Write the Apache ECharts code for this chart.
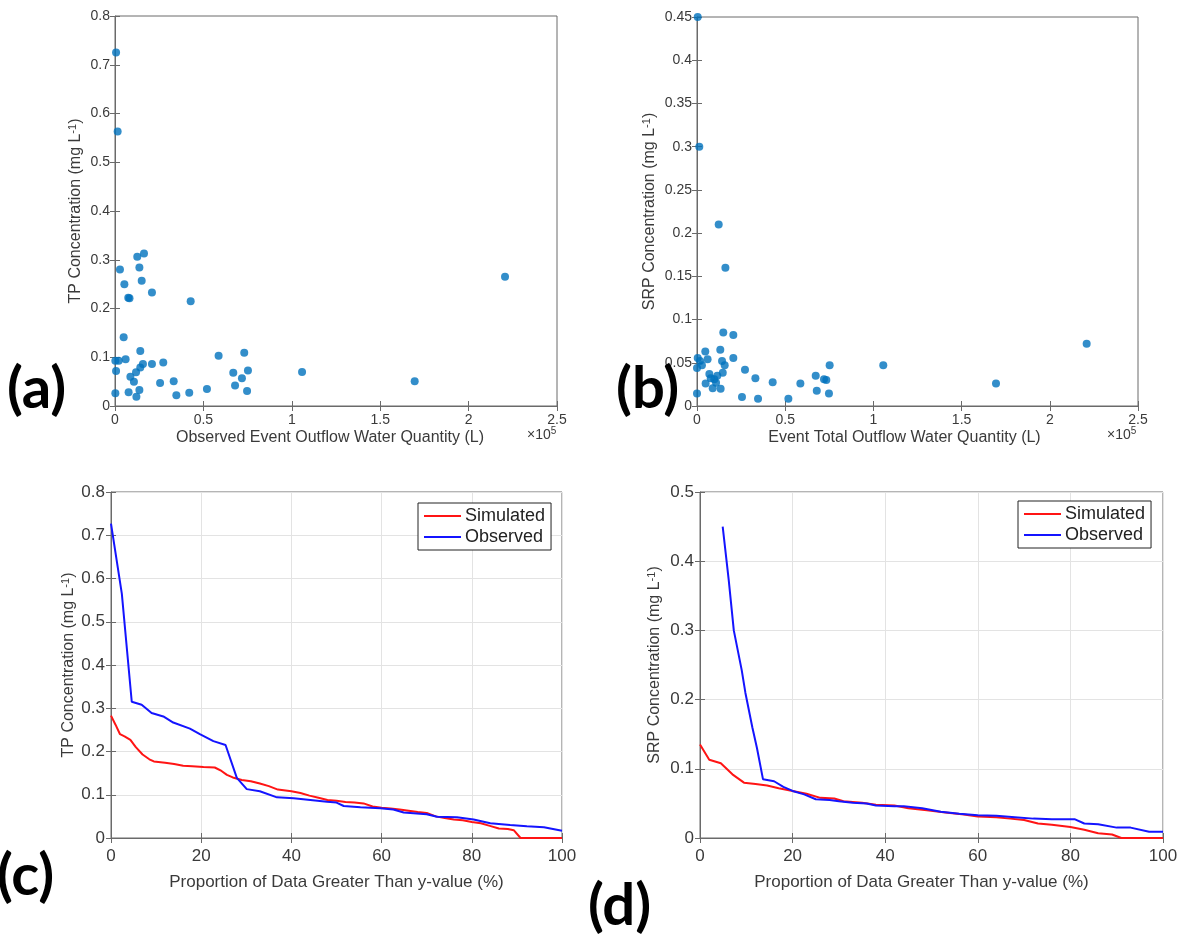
<!DOCTYPE html>
<html>
<head>
<meta charset="utf-8">
<script src="https://cdn.jsdelivr.net/npm/echarts@6/dist/echarts.min.js"></script>
<style>
  html, body { margin: 0; padding: 0; background: #fff; }
  #chart { width: 1182px; height: 938px; }
</style>
</head>
<body>
<div id="chart"></div>
<script>
// (a) TP vs observed event outflow (flow in units of 1e5 L, concentration in mg/L)
const tpFlow = [0.028, 0.126, 0.164, 0.138, 0.053, 0.151, 0.075, 0.082, 0.209, 0.428, 0.049, 0.002, 0.021, 0.060, 0.143,
  0.586, 0.731, 0.006, 0.087, 0.107, 0.119, 0.143, 0.158, 0.209, 0.273, 0.255, 0.332, 0.347, 0.002, 0.077,
  0.121, 0.138, 0.420, 0.520, 0.669, 0.679, 0.718, 0.752, 0.747, 1.058, 1.695, 2.206, 0.006, 0.015];
const tpConc = [0.280, 0.306, 0.313, 0.284, 0.250, 0.257, 0.222, 0.221, 0.233, 0.215, 0.141, 0.093, 0.093, 0.096, 0.113,
  0.103, 0.109, 0.072, 0.060, 0.050, 0.069, 0.079, 0.086, 0.086, 0.089, 0.047, 0.051, 0.022, 0.026, 0.028,
  0.019, 0.033, 0.027, 0.035, 0.068, 0.042, 0.057, 0.073, 0.031, 0.070, 0.051, 0.265, 0.725, 0.563];

// (b) SRP vs event total outflow
const srpFlow = [0.004, 0.013, 0.123, 0.161, 0.149, 0.206, 0.132, 0.047, 0.004, 0.017, 0.028, 0.000, 0.060, 0.142, 0.157,
  0.206, 0.272, 0.070, 0.146, 0.115, 0.331, 0.078, 0.098, 0.049, 0.108, 0.089, 0.134, 0.000, 0.255, 0.346,
  0.429, 0.518, 0.586, 0.673, 0.720, 0.733, 0.752, 0.679, 0.748, 1.056, 1.695, 2.209];
const srpConc = [0.450, 0.300, 0.210, 0.160, 0.085, 0.082, 0.065, 0.063, 0.0555, 0.052, 0.047, 0.044, 0.054, 0.052, 0.047,
  0.0555, 0.042, 0.037, 0.0385, 0.035, 0.032, 0.032, 0.031, 0.026, 0.027, 0.0205, 0.020, 0.0145, 0.0105, 0.0085,
  0.0275, 0.0085, 0.026, 0.035, 0.031, 0.030, 0.047, 0.0175, 0.0145, 0.047, 0.026, 0.072];

// (c) TP exceedance curves: [percent of data greater than y, concentration]
const tpSimulated = [[0, 0.283], [1, 0.262], [2, 0.240], [3, 0.235], [4.3, 0.227], [5.5, 0.210], [7, 0.193], [8.5, 0.182],
  [9.5, 0.177], [12, 0.174], [14, 0.171], [16, 0.167], [18, 0.166], [20.5, 0.164], [23, 0.163], [24.5, 0.155],
  [25.7, 0.146], [27, 0.140], [29, 0.134], [31, 0.131], [33, 0.126], [35, 0.120], [37, 0.112], [40, 0.108],
  [42, 0.104], [44, 0.098], [46, 0.093], [48, 0.088], [50, 0.086], [52, 0.083], [54, 0.082], [56, 0.080],
  [58, 0.073], [60, 0.070], [62, 0.068], [64, 0.066], [66, 0.063], [68, 0.060], [70, 0.058], [72, 0.050],
  [74, 0.046], [76, 0.043], [78, 0.041], [80, 0.037], [82, 0.034], [84, 0.028], [86, 0.022], [88, 0.021],
  [89.3, 0.018], [90.8, 0], [100, 0]];
const tpObserved = [[0, 0.727], [2.4, 0.565], [4.6, 0.315], [6.8, 0.308], [9, 0.289], [11.6, 0.281], [13.8, 0.267],
  [17.5, 0.253], [19.7, 0.240], [22.7, 0.224], [25.4, 0.215], [27.9, 0.139], [30.1, 0.113], [33, 0.108],
  [36.8, 0.094], [40.5, 0.092], [44.2, 0.088], [47.9, 0.084], [50, 0.082], [51.6, 0.074], [55.3, 0.071],
  [59.7, 0.069], [62.6, 0.066], [64.9, 0.059], [70, 0.055], [72.3, 0.049], [76.7, 0.048], [80.4, 0.043],
  [84.1, 0.034], [88.5, 0.030], [92.2, 0.027], [96, 0.025], [100, 0.017]];

// (d) SRP exceedance curves
const srpSimulated = [[0, 0.135], [2, 0.113], [4.5, 0.108], [7, 0.092], [9.5, 0.080], [12, 0.078], [14.5, 0.076],
  [17, 0.072], [20, 0.068], [23, 0.064], [26, 0.058], [29, 0.057], [31, 0.053], [35, 0.051], [38, 0.048],
  [42, 0.047], [45, 0.043], [49, 0.040], [53, 0.037], [57, 0.034], [60, 0.031], [64, 0.030], [67, 0.028],
  [70, 0.026], [73, 0.021], [76, 0.019], [80, 0.016], [83, 0.012], [86, 0.007], [89, 0.005], [91, 0], [100, 0]];
const srpObserved = [[4.9, 0.450], [6.2, 0.373], [7.3, 0.300], [9, 0.243], [9.8, 0.210], [11.3, 0.160], [12.3, 0.130],
  [13.6, 0.085], [16, 0.082], [18, 0.074], [20, 0.068], [22.5, 0.063], [25, 0.056], [28, 0.055], [30, 0.053],
  [33, 0.051], [36, 0.050], [38, 0.047], [42, 0.046], [44, 0.046], [48, 0.043], [52, 0.038], [56, 0.035],
  [60, 0.033], [64, 0.032], [68, 0.030], [72, 0.028], [76, 0.027], [81, 0.027], [83, 0.021], [86, 0.020],
  [90, 0.015], [93, 0.015], [97, 0.009], [100, 0.009]];

const seriesNames = ['Simulated', 'Observed'];
const panelLabels = ['(a)', '(b)', '(c)', '(d)'];

const FONT = '"Liberation Sans", Arial, Helvetica, sans-serif';
const FRAME = '#6a6a6a';
const TEXT = '#3a3a3a';
const DOT = '#0072BD';
const RED = '#ff1414';
const BLUE = '#1414ff';

const zip = (xs, ys) => xs.map((x, i) => [x, ys[i]]);
const fmt = v => String(parseFloat(v.toFixed(3)));

function yTitle(main, size) {
  return {
    name: '{t|' + main + ' (mg L}{s|-1}{t|)}',
    nameLocation: 'middle',
    nameRotate: 90,
    nameTextStyle: {
      rich: {
        t: { fontFamily: FONT, fontSize: size, color: TEXT, lineHeight: size + 2 },
        s: { fontFamily: FONT, fontSize: Math.round(size * 0.68), color: TEXT, verticalAlign: 'top', lineHeight: 10 }
      }
    }
  };
}

// primary (labelled) axes and mirrored unlabelled axes for the boxed frame
function axesFor(gi, x, y) {
  const tick = { show: true, inside: true, length: 5, lineStyle: { color: FRAME } };
  const xs = [
    {
      type: 'value', gridIndex: gi, position: 'bottom', min: x.min, max: x.max, interval: x.interval,
      axisLine: { show: true, lineStyle: { color: FRAME } }, axisTick: tick,
      axisLabel: { fontFamily: FONT, fontSize: x.fontSize, color: TEXT, margin: x.margin, formatter: fmt },
      splitLine: { show: x.grid, lineStyle: { color: '#e3e3e3' } },
      name: x.name, nameLocation: 'middle', nameGap: x.nameGap,
      nameTextStyle: { fontFamily: FONT, fontSize: x.nameSize, color: TEXT, padding: x.namePad || 0 }
    },
    { type: 'value', gridIndex: gi, position: 'top', min: x.min, max: x.max, interval: x.interval,
      axisLine: { show: false }, axisTick: tick, axisLabel: { show: false }, splitLine: { show: false } }
  ];
  const ys = [
    Object.assign({
      type: 'value', gridIndex: gi, position: 'left', min: y.min, max: y.max, interval: y.interval,
      axisLine: { show: true, lineStyle: { color: FRAME } }, axisTick: tick,
      axisLabel: { fontFamily: FONT, fontSize: y.fontSize, color: TEXT, margin: y.margin, formatter: fmt },
      splitLine: { show: y.grid, lineStyle: { color: '#e3e3e3' } },
      nameGap: y.nameGap
    }, yTitle(y.title, y.nameSize)),
    { type: 'value', gridIndex: gi, position: 'right', min: y.min, max: y.max, interval: y.interval,
      axisLine: { show: false }, axisTick: tick, axisLabel: { show: false }, splitLine: { show: false } }
  ];
  return { xs, ys };
}

const panels = [
  axesFor(0,
    { min: 0, max: 2.5, interval: 0.5, fontSize: 14, margin: 7, grid: false,
      name: 'Observed Event Outflow Water Quantity (L)', nameGap: 24, nameSize: 16, namePad: [0, 12, 0, 0] },
    { min: 0, max: 0.8, interval: 0.1, fontSize: 14, margin: 5, grid: false,
      title: 'TP Concentration', nameGap: 30, nameSize: 16 }),
  axesFor(1,
    { min: 0, max: 2.5, interval: 0.5, fontSize: 14, margin: 7, grid: false,
      name: 'Event Total Outflow Water Quantity (L)', nameGap: 24, nameSize: 16, namePad: [0, 26, 0, 0] },
    { min: 0, max: 0.45, interval: 0.05, fontSize: 14, margin: 5, grid: false,
      title: 'SRP Concentration', nameGap: 38, nameSize: 16 }),
  axesFor(2,
    { min: 0, max: 100, interval: 20, fontSize: 17, margin: 10, grid: true,
      name: 'Proportion of Data Greater Than y-value (%)', nameGap: 36, nameSize: 17 },
    { min: 0, max: 0.8, interval: 0.1, fontSize: 17, margin: 6, grid: true,
      title: 'TP Concentration', nameGap: 33, nameSize: 16 }),
  axesFor(3,
    { min: 0, max: 100, interval: 20, fontSize: 17, margin: 10, grid: true,
      name: 'Proportion of Data Greater Than y-value (%)', nameGap: 36, nameSize: 17, namePad: [0, 20, 0, 0] },
    { min: 0, max: 0.5, interval: 0.1, fontSize: 17, margin: 6, grid: true,
      title: 'SRP Concentration', nameGap: 36, nameSize: 16 })
];

const grids = [
  { left: 115, top: 16, width: 442, height: 390 },
  { left: 697, top: 17, width: 441, height: 389 },
  { left: 111, top: 492, width: 451, height: 346 },
  { left: 700, top: 492, width: 463, height: 346 }
].map(g => Object.assign({ show: true, borderColor: FRAME, borderWidth: 1, backgroundColor: '#fff' }, g));

const xAxis = [].concat(...panels.map(p => p.xs));
const yAxis = [].concat(...panels.map(p => p.ys));

const scatterStyle = { symbol: 'circle', symbolSize: 8, itemStyle: { color: DOT } };
const lineStyleOf = c => ({ type: 'line', symbol: 'none', showSymbol: false, lineStyle: { color: c, width: 2 }, itemStyle: { color: c } });

const series = [
  Object.assign({ type: 'scatter', xAxisIndex: 0, yAxisIndex: 0, data: zip(tpFlow, tpConc) }, scatterStyle),
  Object.assign({ type: 'scatter', xAxisIndex: 2, yAxisIndex: 2, data: zip(srpFlow, srpConc) }, scatterStyle),
  Object.assign(lineStyleOf(RED), { name: seriesNames[0], xAxisIndex: 4, yAxisIndex: 4, data: tpSimulated }),
  Object.assign(lineStyleOf(BLUE), { name: seriesNames[1], xAxisIndex: 4, yAxisIndex: 4, data: tpObserved }),
  Object.assign(lineStyleOf(RED), { name: seriesNames[0], xAxisIndex: 6, yAxisIndex: 6, data: srpSimulated }),
  Object.assign(lineStyleOf(BLUE), { name: seriesNames[1], xAxisIndex: 6, yAxisIndex: 6, data: srpObserved })
];

// plain line swatches in a black-bordered box
const legendBase = {
  orient: 'vertical', data: seriesNames, selectedMode: false, icon: 'rect',
  backgroundColor: '#fff', borderColor: '#222', borderWidth: 1, borderRadius: 0,
  padding: [4, 6, 4, 6], itemGap: 3, itemWidth: 37, itemHeight: 2,
  textStyle: { fontFamily: FONT, fontSize: 18, color: '#222', padding: [0, 0, 0, -1] }
};
const legend = [
  Object.assign({ left: 418, top: 503 }, legendBase),
  Object.assign({ left: 1018, top: 501 }, legendBase)
];

const labelPos = [[7, 360], [616, 360], [-3, 847], [588, 877]];
const graphic = panelLabels.map((t, i) => ({
  type: 'text', left: labelPos[i][0], top: labelPos[i][1], z: 10,
  style: { text: t, fill: '#000', fontFamily: 'Lato, "Open Sans", sans-serif', fontWeight: 'bold', fontSize: 58 }
})).concat([[527, 426], [1107, 426]].map(p => ({
  type: 'text', left: p[0], top: p[1], z: 10,
  style: {
    text: '{a|\u00d710}{b|5}',
    rich: {
      a: { fontFamily: FONT, fontSize: 14, fill: TEXT, lineHeight: 18 },
      b: { fontFamily: FONT, fontSize: 10, fill: TEXT, verticalAlign: 'top', lineHeight: 10 }
    }
  }
})));

const chart = echarts.init(document.getElementById('chart'), null, { renderer: 'canvas' });
chart.setOption({
  animation: false,
  backgroundColor: '#fff',
  grid: grids,
  xAxis, yAxis, series, legend, graphic
});
</script>
</body>
</html>
